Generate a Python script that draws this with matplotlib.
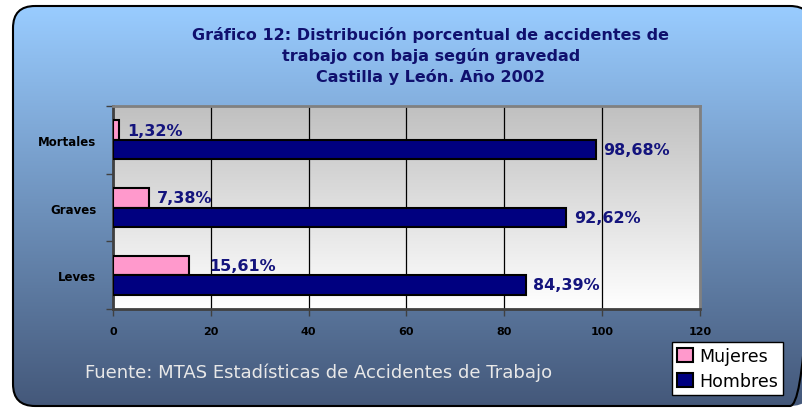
import numpy as np
import matplotlib
matplotlib.use("Agg")
import matplotlib.pyplot as plt
from matplotlib.patches import FancyBboxPatch
from matplotlib.colors import to_rgb

categories = ['Leves', 'Graves', 'Mortales']
mujeres = [15.61, 7.38, 1.32]
hombres = [84.39, 92.62, 98.68]
series_names = ['Mujeres', 'Hombres']
xticks = [0, 20, 40, 60, 80, 100, 120]
title = ("Gráfico 12: Distribución porcentual de accidentes de\n"
         "trabajo con baja según gravedad\n"
         "Castilla y León. Año 2002")
source = "Fuente: MTAS Estadísticas de Accidentes de Trabajo"

W, H = 803, 410
fig = plt.figure(figsize=(W / 100, H / 100), dpi=100)
fig.patch.set_facecolor('white')

# ---- background rounded box with vertical gradient ----
bg = fig.add_axes([0, 0, 1, 1])
bg.set_xlim(0, W)
bg.set_ylim(H, 0)
bg.axis('off')
top_c = np.array(to_rgb('#99ccff'))
bot_c = np.array(to_rgb('#44587a'))
t = np.linspace(0, 1, 256)[:, None]
grad = (top_c * (1 - t) + bot_c * t)[:, None, :]
im = bg.imshow(grad, extent=[13, 812, 407, 7], aspect='auto', zorder=0,
               interpolation='bilinear')
box = FancyBboxPatch((13, 7), 812 - 13, 400,
                     boxstyle='round,pad=0,rounding_size=22',
                     fc='none', ec='black', lw=1.5, zorder=1)
bg.add_patch(box)
im.set_clip_path(box)

bg.text(431, 56, title, ha='center', va='center', color='#10106e',
        fontsize=11.5, fontweight='bold', linespacing=1.42)
bg.text(85, 373, source, ha='left', va='center', color='#e8e8e8',
        fontsize=13)

# ---- main plot ----
ax = fig.add_axes([113 / W, (H - 310) / H, (700 - 113) / W, (310 - 107) / H])
ax.set_xlim(0, 120)
ax.set_ylim(-0.5, 2.5)
pg = np.linspace(0, 1, 256)[:, None]
gtop = np.array(to_rgb('#c0c0c0'))
gbot = np.array(to_rgb('#ffffff'))
pgrad = (gtop * (1 - pg) + gbot * pg)[:, None, :]
ax.imshow(pgrad, extent=[0, 120, -0.5, 2.5], aspect='auto', zorder=0,
          interpolation='bilinear')

y = np.arange(len(categories))
bh = 0.29
b1 = ax.barh(y + bh / 2, mujeres, height=bh, color='#ff99cc',
             edgecolor='black', lw=1.5, zorder=3, label=series_names[0])
b2 = ax.barh(y - bh / 2, hombres, height=bh, color='#000080',
             edgecolor='black', lw=1.5, zorder=3, label=series_names[1])

def fmt(v):
    return f"{v:.2f}".replace('.', ',') + '%'

lab_color = '#14147d'
muj_off = [14, 5.5, 5.5]
for yi, v, off in zip(y, mujeres, muj_off):
    ax.annotate(fmt(v), xy=(v, yi + bh / 2), xytext=(off, 0),
                textcoords='offset points', va='center', ha='left',
                color=lab_color, fontsize=11.5, fontweight='bold', zorder=5)
for yi, v in zip(y, hombres):
    ax.annotate(fmt(v), xy=(v, yi - bh / 2), xytext=(5.5, 0),
                textcoords='offset points', va='center', ha='left',
                color=lab_color, fontsize=11.5, fontweight='bold', zorder=5)

ax.set_xticks(xticks)
ax.set_xticklabels([str(v) for v in xticks], fontsize=8, fontweight='bold')
ax.xaxis.grid(True, color='black', lw=0.9)
ax.set_axisbelow(True)
ax.tick_params(axis='x', direction='out', length=5, width=1,
               color='#404040', pad=7)

ax.set_yticks(y)
ax.set_yticklabels(categories, fontsize=8.5, fontweight='bold')
ax.set_yticks([-0.5, 0.5, 1.5, 2.5], minor=True)
ax.tick_params(axis='y', which='major', length=0, pad=12)
ax.tick_params(axis='y', which='minor', length=5, width=1,
               color='#404040', direction='out')

for s in ['left', 'bottom']:
    ax.spines[s].set_color('#404040')
    ax.spines[s].set_linewidth(2)
for s in ['top', 'right']:
    ax.spines[s].set_color('#808080')
    ax.spines[s].set_linewidth(2)

leg = fig.legend(handles=[b1, b2], labels=series_names, loc='upper left',
                 bbox_to_anchor=(672 / W, 1 - 343 / H), frameon=True,
                 fancybox=False, edgecolor='black', facecolor='white',
                 framealpha=1, fontsize=12.5, handlelength=0.9,
                 handleheight=0.9, handletextpad=0.35, borderpad=0.3,
                 labelspacing=0.4, borderaxespad=0)
leg.get_frame().set_linewidth(1)

fig.savefig('out.png', dpi=100, facecolor='white')
